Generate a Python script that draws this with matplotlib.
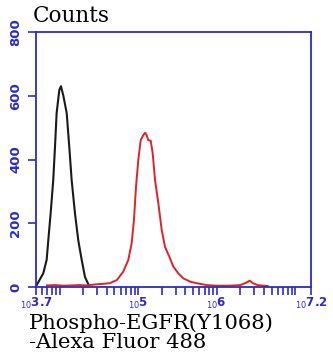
import numpy as np
import matplotlib
matplotlib.use('Agg')
from matplotlib import pyplot as plt
from matplotlib.ticker import FixedLocator, NullFormatter

# 读图得到的数据 (log10 荧光强度, 计数)
black_logx = [3.709, 3.793, 3.836, 3.857, 3.887, 3.920, 3.942, 3.963, 3.997, 4.018,
              4.030, 4.047, 4.091, 4.124, 4.154, 4.196, 4.238, 4.282, 4.324, 4.366]
black_counts = [6, 43, 85, 147, 232, 336, 439, 546, 618, 630,
                618, 602, 546, 439, 336, 232, 147, 85, 31, 9]

red_logx = [3.84, 3.95, 4.05, 4.15, 4.25, 4.35, 4.45, 4.55, 4.64, 4.73,
            4.81, 4.875, 4.918, 4.947, 4.973, 5.002, 5.033, 5.067, 5.091, 5.11,
            5.129, 5.16, 5.185, 5.215, 5.257, 5.30, 5.342, 5.397, 5.448, 5.511,
            5.575, 5.62, 5.66, 5.745, 5.872, 6.0, 6.15, 6.3, 6.38, 6.42,
            6.46, 6.52, 6.6, 6.65]
red_counts = [5, 6, 4, 5, 6, 5, 8, 10, 12, 22,
              48, 85, 138, 210, 315, 398, 461, 477, 484, 475,
              461, 459, 420, 336, 263, 179, 126, 95, 64, 43,
              27, 22, 17, 12, 6, 4, 4, 6, 14, 20,
              12, 6, 4, 3]

y_ticks = [0, 200, 400, 600, 800]
x_major_exp = [3.7, 5, 6, 7.2]
x_major_labels = ['3.7', '5', '6', '7.2']

BLUE = '#2b2bc8'
FONT = 'DejaVu Serif'

fig = plt.figure(figsize=(3.33, 3.64), dpi=100)
ax = fig.add_axes([0.108, 0.2115, 0.826, 0.7005])

ax.plot(10 ** np.array(black_logx), black_counts, color='#1a1a1a', lw=1.5)
ax.plot(10 ** np.array(red_logx), red_counts, color='#e0202a', lw=1.4)

ax.set_xscale('log')
ax.set_xlim(10 ** 3.7, 10 ** 7.2)
ax.set_ylim(0, 800)

# x 轴刻度
majors = [10 ** e for e in x_major_exp]
minors = [i * 10 ** k for k in range(3, 8) for i in range(1, 10)]
minors = [m for m in minors if 10 ** 3.7 < m < 10 ** 7.2 and m not in (1e5, 1e6)]
ax.xaxis.set_major_locator(FixedLocator(majors))
ax.xaxis.set_minor_locator(FixedLocator(minors))
ax.xaxis.set_minor_formatter(NullFormatter())
ax.set_xticklabels([r'$_{10}$' + s for s in x_major_labels],
                   color=BLUE, fontsize=8.5, fontweight='bold')

ax.set_yticks(y_ticks)
ax.set_yticklabels([str(v) for v in y_ticks], rotation=90, va='center',
                   color=BLUE, fontsize=9.5, fontweight='bold')

ax.tick_params(axis='x', which='both', direction='out', length=5.5, width=1.2,
               color=BLUE, pad=1)
ax.tick_params(axis='y', which='major', direction='out', length=6, width=1.2,
               color=BLUE, pad=4)

for sp in ax.spines.values():
    sp.set_color(BLUE)
    sp.set_linewidth(1.3)

fig.text(33 / 333, 1 - 5 / 364, 'Counts', family=FONT, fontsize=15.5,
         va='top', ha='left')
fig.text(29 / 333, 1 - 313 / 364, 'Phospho-EGFR(Y1068)\n-Alexa Fluor 488',
         family=FONT, fontsize=15.2, va='top', ha='left', linespacing=1.05)

plt.savefig('out.png', dpi=100)
